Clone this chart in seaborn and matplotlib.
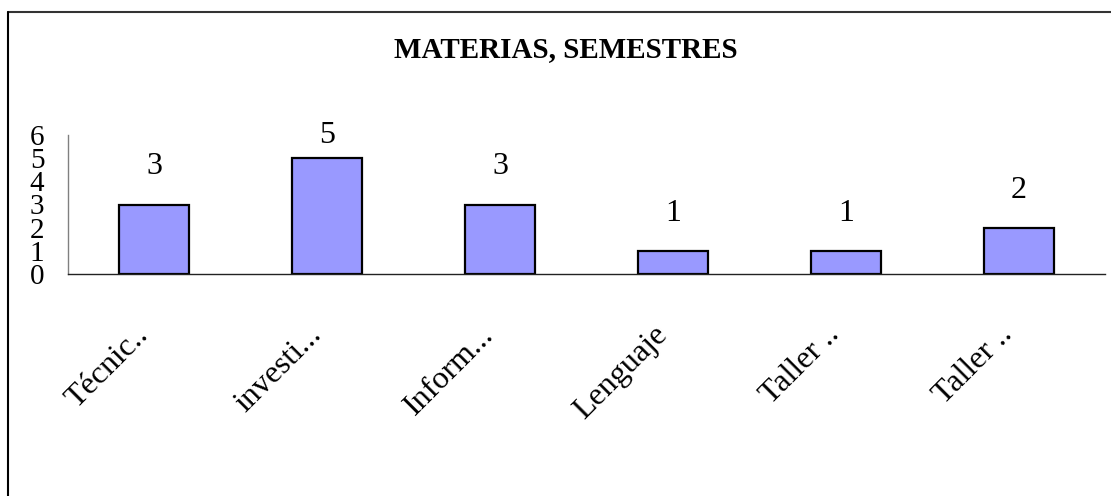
import matplotlib
matplotlib.use("Agg")
import matplotlib.pyplot as plt
import seaborn as sns
import pandas as pd
from matplotlib.lines import Line2D

categories = ["Técnic..", "investi...", "Inform...", "Lenguaje", "Taller ..", "Taller .."]
values = [3, 5, 3, 1, 1, 2]
yticks = [0, 1, 2, 3, 4, 5, 6]
title = "MATERIAS, SEMESTRES"

sns.set_style("white")
plt.rcParams["font.family"] = ["Liberation Serif", "DejaVu Serif"]
plt.rcParams["text.color"] = "black"
plt.rcParams["xtick.color"] = "black"
plt.rcParams["ytick.color"] = "black"

df = pd.DataFrame({"cat": range(len(categories)), "val": values})

fig = plt.figure(figsize=(11.11, 4.96), dpi=100)
ax = fig.add_axes([68/1111, 1-274/496, (1105-68)/1111, (274-135)/496])

sns.barplot(data=df, x="cat", y="val", ax=ax, color="#9999FF", width=0.405,
            edgecolor="black", linewidth=1.6, saturation=1, native_scale=False)

ax.set_xlim(-0.5, len(categories) - 0.5)
ax.set_ylim(0, 6)
ax.set_yticks(yticks)
ax.set_yticklabels([str(t) for t in yticks], fontsize=21, color="black")
ax.set_xticks(range(len(categories)))
ax.set_xticklabels(categories, fontsize=23, rotation=45, ha="right",
                   va="bottom", rotation_mode="anchor", color="black")
ax.set_xticks([i - 0.5 for i in range(len(categories) + 1)], minor=True)
ax.tick_params(axis="x", which="major", length=0, pad=48)
ax.tick_params(axis="x", which="minor", length=7, width=1, color="#666666", direction="out")
ax.tick_params(axis="y", length=7, width=1, color="#777777", direction="out", pad=10)
ax.set_xlabel("")
ax.set_ylabel("")

for s in ["top", "right"]:
    ax.spines[s].set_visible(False)
ax.spines["left"].set_color("#808080")
ax.spines["left"].set_linewidth(1)
ax.spines["bottom"].set_color("#222222")
ax.spines["bottom"].set_linewidth(1)

for i, v in enumerate(values):
    ax.text(i, min(v + 1.0, 5.35), str(v), ha="center", va="bottom",
            fontsize=23, color="black")

fig.text(566/1111, 1-50/496, title, ha="center", va="center",
         fontsize=21, fontweight="bold", color="black")

fig.add_artist(Line2D([7.5/1111, 1], [1-11.5/496]*2, color="#333333", lw=1.5,
                      transform=fig.transFigure))
fig.add_artist(Line2D([7.5/1111]*2, [0, 1-11.5/496], color="black", lw=1.5,
                      transform=fig.transFigure))

fig.savefig("out.png", dpi=100)
